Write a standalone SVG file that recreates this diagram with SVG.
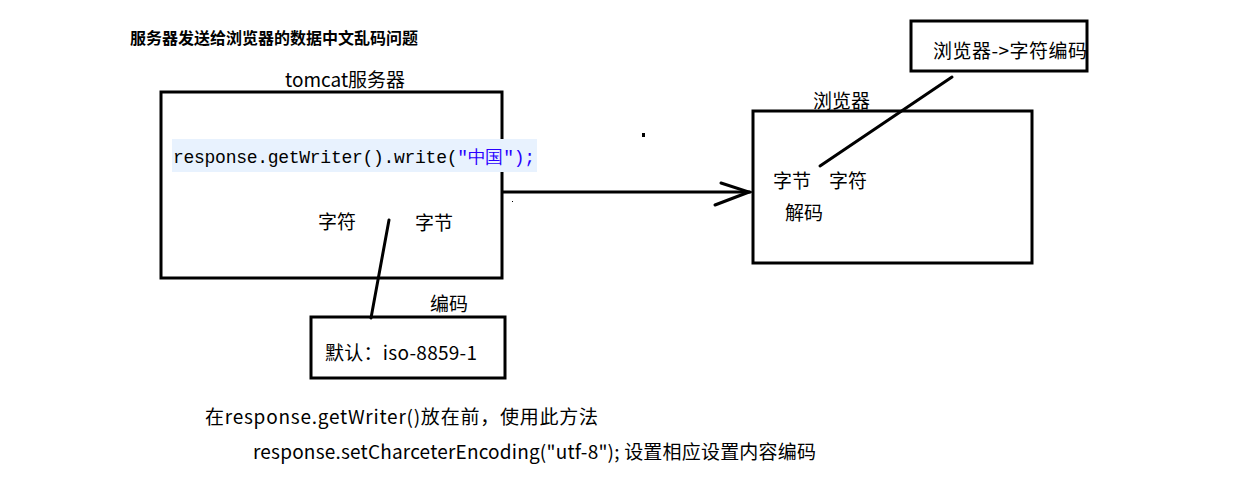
<svg xmlns="http://www.w3.org/2000/svg" width="1251" height="488" viewBox="0 0 1251 488">
<style>
.t{font-family:"Noto Sans CJK SC","Noto Sans",sans-serif;font-size:19px;fill:#000}
.b{fill:none;stroke:#000;stroke-width:3}
.l{fill:none;stroke:#000;stroke-width:3;stroke-linecap:round}
.code{font-family:"Liberation Mono","Courier New",monospace;font-size:18px}
</style>
<rect width="1251" height="488" fill="#fff"/>
<text class="t" x="130" y="44" style="font-weight:bold;font-size:16px">服务器发送给浏览器的数据中文乱码问题</text>
<g id="tomcat">
<rect class="b" x="161" y="92" width="341" height="186"/>
<text class="t" x="285" y="87">tomcat服务器</text>
<rect x="172" y="139" width="365" height="33" fill="#e8f2fe"/>
<text class="code" x="173" y="163" textLength="362"><tspan fill="#000">response.getWriter().write(</tspan><tspan fill="#2a00ff">"中国");</tspan></text>
<text class="t" x="318" y="229">字符</text>
<text class="t" x="415" y="230">字节</text>
</g>
<g id="encode">
<text class="t" x="430" y="311">编码</text>
<rect class="b" x="311" y="317" width="194" height="61"/>
<text class="t" x="325" y="360" textLength="152">默认：iso-8859-1</text>
</g>
<g id="browser">
<text class="t" x="813" y="108">浏览器</text>
<rect class="b" x="753" y="111" width="279" height="152"/>
<text class="t" x="773" y="188">字节</text>
<text class="t" x="829" y="188">字符</text>
<text class="t" x="785" y="220">解码</text>
</g>
<g id="note">
<rect class="b" x="911" y="21" width="176" height="50"/>
<text class="t" x="933" y="58" textLength="154">浏览器-&gt;字符编码</text>
</g>
<g id="connectors">
<line class="l" x1="503" y1="192" x2="750" y2="192"/>
<polyline class="l" points="721,183 749,192 715,205"/>
<line class="l" x1="389" y1="220" x2="371" y2="318"/>
<line class="l" x1="952" y1="77" x2="820" y2="166"/>
</g>
<rect x="642" y="133" width="3" height="4" fill="#000"/>
<rect x="512" y="201" width="1" height="1" fill="#000"/>
<text class="t" x="205" y="424" textLength="393">在response.getWriter()放在前，使用此方法</text>
<text class="t" x="253" y="459" textLength="563">response.setCharceterEncoding("utf-8"); 设置相应设置内容编码</text>
</svg>
